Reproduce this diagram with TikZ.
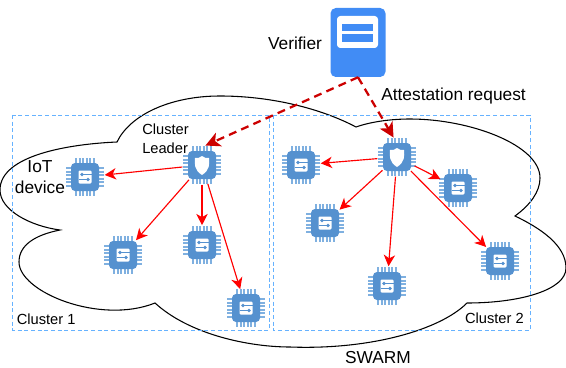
\documentclass[tikz,border=0pt]{standalone}
\usepackage{fontspec}
\setmainfont{Liberation Sans}
\usetikzlibrary{arrows.meta}
\definecolor{chipblue}{HTML}{5591CF}
\definecolor{pinblue}{HTML}{7FB0E0}
\definecolor{boxblue}{HTML}{418CF5}
\definecolor{clusterblue}{HTML}{66B2FF}
\definecolor{dashred}{HTML}{CC0000}
\tikzset{
	chip/.style={shape=circle, minimum size=29.25pt, inner sep=0pt},
	big/.style={font=\fontsize{13}{15}\selectfont, inner sep=0pt},
	small/.style={font=\fontsize{11}{14}\selectfont, inner sep=0pt},
	cluster/.style={draw=clusterblue, densely dashed, line width=0.6pt},
	cast/.style={draw=red, line width=0.85pt, -{Stealth[length=8.5pt,width=8.5pt,inset=2.5pt]}},
	request/.style={draw=dashred, line width=1.7pt, dash pattern=on 6pt off 4pt, -{Stealth[length=11pt,width=11pt,inset=3pt]}},
	pics/pins/.style={code={
		\draw [pinblue, line width=29pt, dash pattern=on 1.6pt off 1pt] (0,-9.75) to (0,9.75);
		\draw [pinblue, line width=29pt, dash pattern=on 1.6pt off 1pt] (-9.75,0) to (9.75,0);
		\fill [chipblue, rounded corners=3pt] (-14,-14) rectangle (14,14);
	}},
	pics/device/.style={code={
		\pic {pins};
		\fill [white, rounded corners=0.8pt] (-6.5,-6.5) rectangle (6.5,6.5);
		\draw [chipblue, line width=0.8pt] (-3,-2.5) to (6.5,-2.5);
		\draw [chipblue, line width=0.8pt] (-6.5,2.5) to (3,2.5);
		\fill [chipblue] (-3,-2.5) circle (1.8);
		\fill [chipblue] (3,2.5) circle (1.8);
	}},
	pics/leader/.style={code={
		\pic {pins};
		\fill [white] (0,-9) .. controls (-2,-7) and (-5,-6.5) .. (-7,-7) .. controls (-7.5,-1) and (-8,5) .. (0,10)
			.. controls (8,5) and (7.5,-1) .. (7,-7) .. controls (5,-6.5) and (2,-7) .. (0,-9) -- cycle;
	}},
}

\begin{document}
\begin{tikzpicture}[x=0.75pt,y=-0.75pt]
	\useasboundingbox (0,0) rectangle (566,367);

	\draw [black, line width=0.8pt] (117,142) .. controls (70,144) and (0,155) .. (0,190)
		.. controls (0,210) and (30,226) .. (60,230)
		.. controls (35,235) and (19,245) .. (19,262)
		.. controls (19,292) and (100,325) .. (155,303)
		.. controls (190,335) and (250,347) .. (290,347)
		.. controls (370,350) and (440,330) .. (467,303)
		.. controls (520,303) and (566,290) .. (566,268)
		.. controls (566,245) and (540,228) .. (515,216)
		.. controls (530,205) and (540,192) .. (540,178)
		.. controls (540,145) and (470,119) .. (410,119)
		.. controls (390,119) and (370,122) .. (356,127)
		.. controls (320,108) and (270,96) .. (220,96)
		.. controls (170,96) and (130,115) .. (117,142) -- cycle;

	\draw [cluster] (12.5,115) rectangle (269,330);
	\draw [cluster] (273,115) rectangle (530,330);

	\node [fill=boxblue, shape=rectangle, rounded corners=4pt, minimum width=41.25pt, minimum height=51.75pt, inner sep=0pt] (0) at (358,42.5) {};
	\fill [white, rounded corners=2.5pt] (337,16) rectangle (378,48);
	\fill [boxblue] (342,24) rectangle (373,31);
	\fill [boxblue] (342,34) rectangle (373,42);

	\node [chip] (1) at (202,165) {};
	\node [chip] (2) at (85,177) {};
	\node [chip] (3) at (123,255) {};
	\node [chip] (4) at (202,245) {};
	\node [chip] (5) at (246,308) {};
	\node [chip] (6) at (397,157) {};
	\node [chip] (7) at (301,165) {};
	\node [chip] (8) at (325,223) {};
	\node [chip] (9) at (458,188) {};
	\node [chip] (10) at (387,286) {};
	\node [chip] (11) at (500,261) {};

	\pic at (1) {leader};
	\pic at (2) {device};
	\pic at (3) {device};
	\pic at (4) {device};
	\pic at (5) {device};
	\pic at (6) {leader};
	\pic at (7) {device};
	\pic at (8) {device};
	\pic at (9) {device};
	\pic at (10) {device};
	\pic at (11) {device};

	\draw [cast] (1) to (2);
	\draw [cast] (1) to (3);
	\draw [cast] (1) to (4);
	\draw [cast] (1) to (5);
	\draw [cast] (6) to (7);
	\draw [cast] (6) to (8);
	\draw [cast] (6) to (9);
	\draw [cast] (6) to (10);
	\draw [cast] (6) to (11);

	\draw [request] (0.south) to (1.80);
	\draw [request] (0.south) to (6.100);

	\node [big] (12) at (295,43) {Verifier};
	\node [big, anchor=west] (13) at (381,96) {Attestation request};
	\node [big, align=center, font=\fontsize{13}{15.75}\selectfont] (14) at (40,177.5) {IoT\\device};
	\node [small, align=left, anchor=west] (15) at (142,138.5) {Cluster\\Leader};
	\node [small, anchor=west] (16) at (16.5,319) {Cluster 1};
	\node [small, anchor=east] (17) at (524,318.5) {Cluster 2};
	\node [big] (18) at (378,358) {SWARM};
\end{tikzpicture}
\end{document}
